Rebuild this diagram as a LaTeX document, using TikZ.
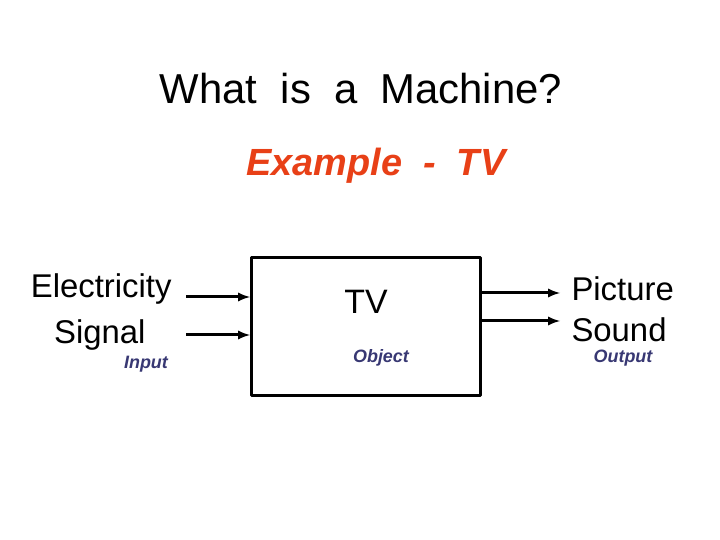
\documentclass[tikz,border=0pt]{standalone}
\usepackage{fontspec}
\setmainfont{Liberation Sans}
\definecolor{titlered}{rgb}{0.91,0.25,0.09}
\definecolor{labelblue}{rgb}{0.22,0.22,0.45}
\begin{document}
\begin{tikzpicture}[>=latex,line join=bevel,
  txt/.style={inner sep=0pt,font=\fontsize{33}{35}\selectfont},
  tag/.style={inner sep=0pt,text=labelblue,font=\fontsize{18}{20}\selectfont\bfseries\itshape}]
  \pgfsetlinewidth{1bp}
  \useasboundingbox (0bp,0bp) rectangle (720bp,540bp);
%%
  % Node: title
  \node (title) at (361bp,451bp) {\fontsize{42}{44}\selectfont What\ \ is\ \ a\ \ Machine?};
  % Node: example
  \node [text=titlered] (example) at (376bp,374bp) {\fontsize{38}{40}\selectfont\bfseries\itshape Example\ \ -\ \ TV};
  % Node: tv
  \draw [line width=3bp] (251bp,144bp) rectangle (480bp,282bp);
  \node [inner sep=0pt,font=\fontsize{34}{36}\selectfont] (tv) at (366bp,238bp) {TV};
  \node [tag] (object) at (381bp,182bp) {Object};
  % Node: inputs
  \node [txt,anchor=east] (elec) at (172bp,251bp) {Electricity};
  \node [txt,anchor=east] (signal) at (146bp,205bp) {Signal};
  \node [tag] (input) at (146bp,176bp) {Input};
  % Node: outputs
  \node [txt,anchor=west] (picture) at (571bp,251bp) {Picture};
  \node [txt,anchor=west] (sound) at (571bp,210bp) {Sound};
  \node [tag] (output) at (623bp,182bp) {Output};
  % Edges
  \coordinate (in1) at (250bp,243bp);
  \coordinate (in2) at (250bp,205bp);
  \coordinate (out1) at (560bp,247bp);
  \coordinate (out2) at (560bp,219bp);
  \draw [->,line width=3bp] (elec.east |- in1) ++(14bp,0) -- (in1);
  \draw [->,line width=3bp] (186bp,205bp) -- (in2);
  \draw [->,line width=3bp] (482bp,247bp) -- (out1);
  \draw [->,line width=3bp] (482bp,219bp) -- (out2);
%
\end{tikzpicture}
\end{document}
